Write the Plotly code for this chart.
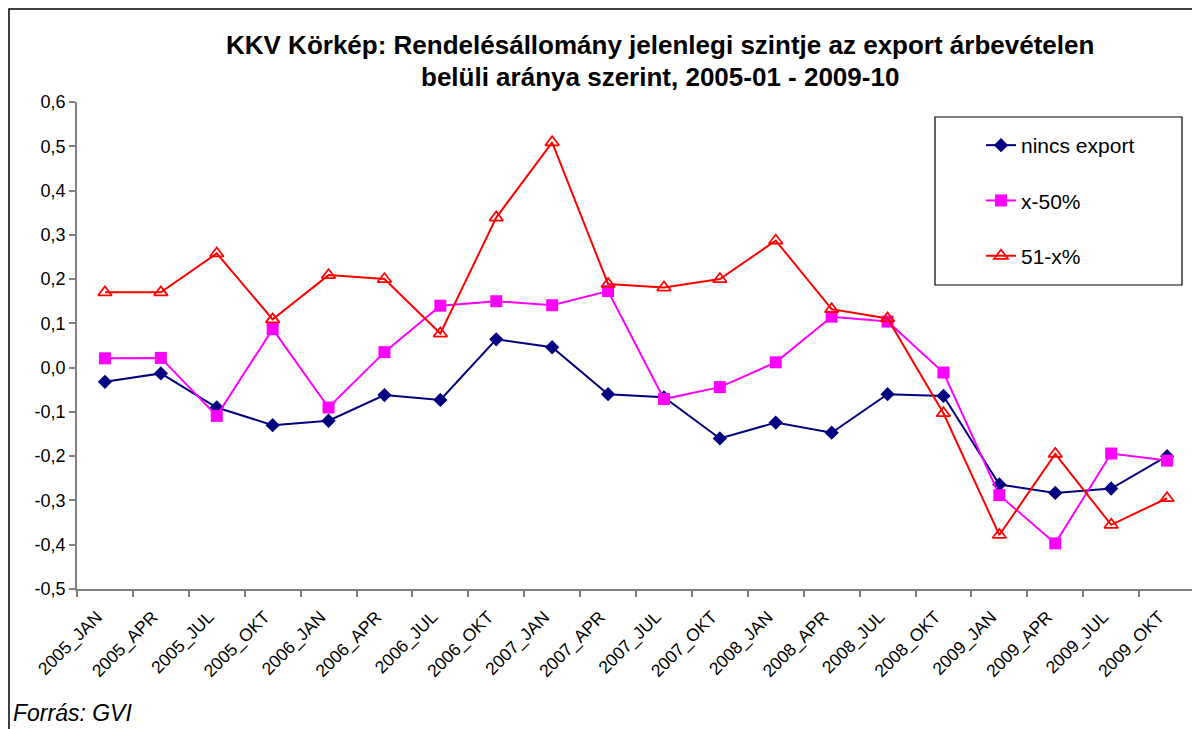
import plotly.graph_objects as go

categories = ["2005_JAN", "2005_APR", "2005_JUL", "2005_OKT",
              "2006_JAN", "2006_APR", "2006_JUL", "2006_OKT",
              "2007_JAN", "2007_APR", "2007_JUL", "2007_OKT",
              "2008_JAN", "2008_APR", "2008_JUL", "2008_OKT",
              "2009_JAN", "2009_APR", "2009_JUL", "2009_OKT"]

nincs_export = [-0.032, -0.013, -0.090, -0.130, -0.120, -0.062, -0.073, 0.064,
                0.046, -0.060, -0.067, -0.160, -0.124, -0.147, -0.060, -0.064,
                -0.264, -0.283, -0.273, -0.200]

x_50 = [0.021, 0.022, -0.109, 0.087, -0.090, 0.035, 0.140, 0.150,
        0.141, 0.173, -0.071, -0.044, 0.012, 0.115, 0.104, -0.011,
        -0.288, -0.397, -0.194, -0.210]

x_51 = [0.170, 0.170, 0.258, 0.109, 0.209, 0.200, 0.077, 0.339,
        0.509, 0.189, 0.181, 0.200, 0.287, 0.132, 0.111, -0.103,
        -0.378, -0.195, -0.355, -0.295]

series_names = ["nincs export", "x-50%", "51-x%"]

y_tick_vals = [0.6, 0.5, 0.4, 0.3, 0.2, 0.1, 0.0, -0.1, -0.2, -0.3, -0.4, -0.5]
y_tick_text = ["0,6", "0,5", "0,4", "0,3", "0,2", "0,1", "0,0",
               "-0,1", "-0,2", "-0,3", "-0,4", "-0,5"]

title_line1 = "KKV Körkép: Rendelésállomány jelenlegi szintje az export árbevételen"
title_line2 = "belüli aránya szerint, 2005-01 - 2009-10"
source_text = "Forrás: GVI"

FONT = "Liberation Sans, Arial, sans-serif"

# the page places the figure 8px from the top-left corner of the window
OFF = 8
W, H = 1200 - OFF, 729 - OFF
# plot area in screen pixels: x 77..1195, y 102..589
SX0, SX1, SY0, SY1 = 77, 1195, 102, 589
L = SX0 - OFF
R = W - (SX1 - OFF)
T = SY0 - OFF
B = H - (SY1 - OFF)
pw = W - L - R
ph = H - T - B


def px_x(px):
    return (px - SX0) / pw


def px_y(py):
    return (SY1 - py) / ph


fig = go.Figure()

fig.add_trace(go.Scatter(
    x=categories, y=nincs_export, name=series_names[0], mode="lines+markers",
    line=dict(color="#000080", width=2),
    marker=dict(symbol="diamond", size=11, color="#000080"),
    legendgroup="a"))
fig.add_trace(go.Scatter(
    x=categories, y=x_50, name=series_names[1], mode="lines+markers",
    line=dict(color="#FF00FF", width=2),
    marker=dict(symbol="square", size=12, color="#FF00FF"),
    legendgroup="b"))
fig.add_trace(go.Scatter(
    x=categories, y=x_51, name=series_names[2], mode="lines+markers",
    line=dict(color="#FF0000", width=2),
    marker=dict(symbol="triangle-up-open", size=12, color="#FF0000",
                line=dict(width=1.75, color="#FF0000")),
    legendgroup="c"))

fig.update_layout(
    width=W, height=H,
    margin=dict(l=L, r=R, t=T, b=B, autoexpand=False),
    paper_bgcolor="white", plot_bgcolor="white",
    font=dict(family=FONT, size=17, color="black"),
    showlegend=True,
    legend=dict(
        x=px_x(981), y=px_y(125), xanchor="left", yanchor="top",
        bgcolor="rgba(0,0,0,0)", borderwidth=0,
        font=dict(family=FONT, size=21, color="black"),
        traceorder="grouped", tracegroupgap=25,
    ),
    xaxis=dict(
        type="category", range=[-0.5, len(categories) - 0.5],
        showline=True, linecolor="#808080", linewidth=1.5,
        ticks="outside", tickson="boundaries", ticklen=6, tickcolor="#808080",
        tickwidth=1.5, tickangle=-45, showgrid=False, zeroline=False,
        tickfont=dict(family=FONT, size=17.5, color="black"),
        ticklabelstandoff=9, ticklabelshift=-8,
    ),
    yaxis=dict(
        range=[-0.5, 0.6], tickvals=y_tick_vals, ticktext=y_tick_text,
        showline=True, linecolor="#808080", linewidth=1.5,
        ticks="outside", ticklen=6, tickcolor="#808080", tickwidth=1.5,
        showgrid=False, zeroline=False,
        tickfont=dict(family=FONT, size=18, color="black"),
    ),
    shapes=[
        dict(type="rect", xref="paper", yref="paper",
             x0=px_x(935), x1=px_x(1182), y0=px_y(285), y1=px_y(117),
             line=dict(color="black", width=1.2), fillcolor="rgba(0,0,0,0)"),
        dict(type="rect", xref="paper", yref="paper",
             x0=px_x(OFF + 1), x1=px_x(1260), y0=px_y(780), y1=px_y(OFF + 1),
             line=dict(color="black", width=1.5), fillcolor="rgba(0,0,0,0)"),
    ],
    annotations=[
        dict(text="<b>" + title_line1 + "</b>", xref="paper", yref="paper",
             x=px_x(660), y=px_y(45), xanchor="center", yanchor="middle",
             showarrow=False, font=dict(family=FONT, size=26, color="black")),
        dict(text="<b>" + title_line2 + "</b>", xref="paper", yref="paper",
             x=px_x(660), y=px_y(77), xanchor="center", yanchor="middle",
             showarrow=False, font=dict(family=FONT, size=26, color="black")),
        dict(text="<i>" + source_text + "</i>", xref="paper", yref="paper",
             x=px_x(11), y=px_y(713), xanchor="left", yanchor="middle",
             showarrow=False, font=dict(family=FONT, size=23, color="black")),
    ],
)

fig.write_html("out.html")
